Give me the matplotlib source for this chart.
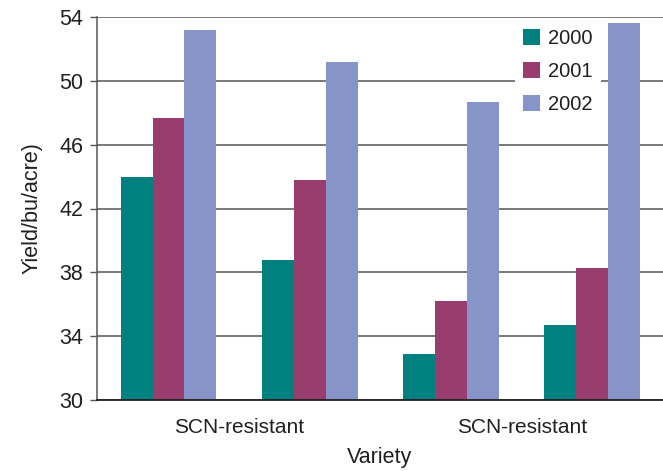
import numpy as np
import matplotlib
matplotlib.use('Agg')
from matplotlib import pyplot as plt
from matplotlib.patches import Patch

plt.rcParams['font.family'] = ['Liberation Sans', 'DejaVu Sans']

groups = ['SCN-resistant', 'SCN-resistant']
years = ['2000', '2001', '2002']
yield_2000 = [44.0, 38.8, 32.9, 34.7]
yield_2001 = [47.7, 43.8, 36.2, 38.3]
yield_2002 = [53.2, 51.2, 48.7, 53.6]
colors = ['#00807f', '#993d6e', '#8794c8']
text_color = '#231f20'

fig = plt.figure(figsize=(6.63, 4.71), dpi=100)
ax = fig.add_axes([97 / 663, 1 - 400 / 471, 1 - 97 / 663, (400 - 17) / 471])

x = np.arange(len(yield_2000))
w = 0.226
for i, vals in enumerate([yield_2000, yield_2001, yield_2002]):
    ax.bar(x + (i - 1) * w, np.array(vals) - 30, width=w, bottom=30,
           color=colors[i], zorder=3)

ax.set_xlim(-0.506, 3.5)
ax.set_ylim(30, 54)
ax.set_yticks(np.arange(30, 55, 4))
ax.set_xticks([0.5, 2.5])
ax.set_xticklabels(groups)

ax.grid(axis='y', color='#555555', linewidth=1.1, zorder=1)
ax.set_axisbelow(True)
for s in ['top', 'right']:
    ax.spines[s].set_visible(False)
ax.spines['left'].set_color('#555555')
ax.spines['left'].set_linewidth(1.1)
ax.spines['bottom'].set_color('#231f20')
ax.spines['bottom'].set_linewidth(1.3)
ax.spines['bottom'].set_zorder(4)

ax.tick_params(axis='y', length=5, width=1.0, color='#555555', pad=5,
               labelsize=15.5, labelcolor=text_color)
ax.tick_params(axis='x', length=0, pad=13, labelsize=15, labelcolor=text_color)

ax.set_xlabel('Variety', fontsize=15.5, color=text_color, labelpad=7)
ax.set_ylabel('Yield/bu/acre)', fontsize=15.5, color=text_color, labelpad=12)

handles = [Patch(facecolor=c, edgecolor='none') for c in colors]
leg = ax.legend(handles, years, loc='upper left', bbox_to_anchor=(0.72, 1.015),
                frameon=True, fontsize=14.5, handlelength=0.85, handleheight=0.85,
                handletextpad=0.42, labelspacing=0.68, borderpad=0.4)
leg.get_frame().set_facecolor('white')
leg.get_frame().set_edgecolor('none')
leg.get_frame().set_alpha(1)
leg.set_zorder(2.5)
for t in leg.get_texts():
    t.set_color(text_color)

fig.savefig('out.png', dpi=100)
